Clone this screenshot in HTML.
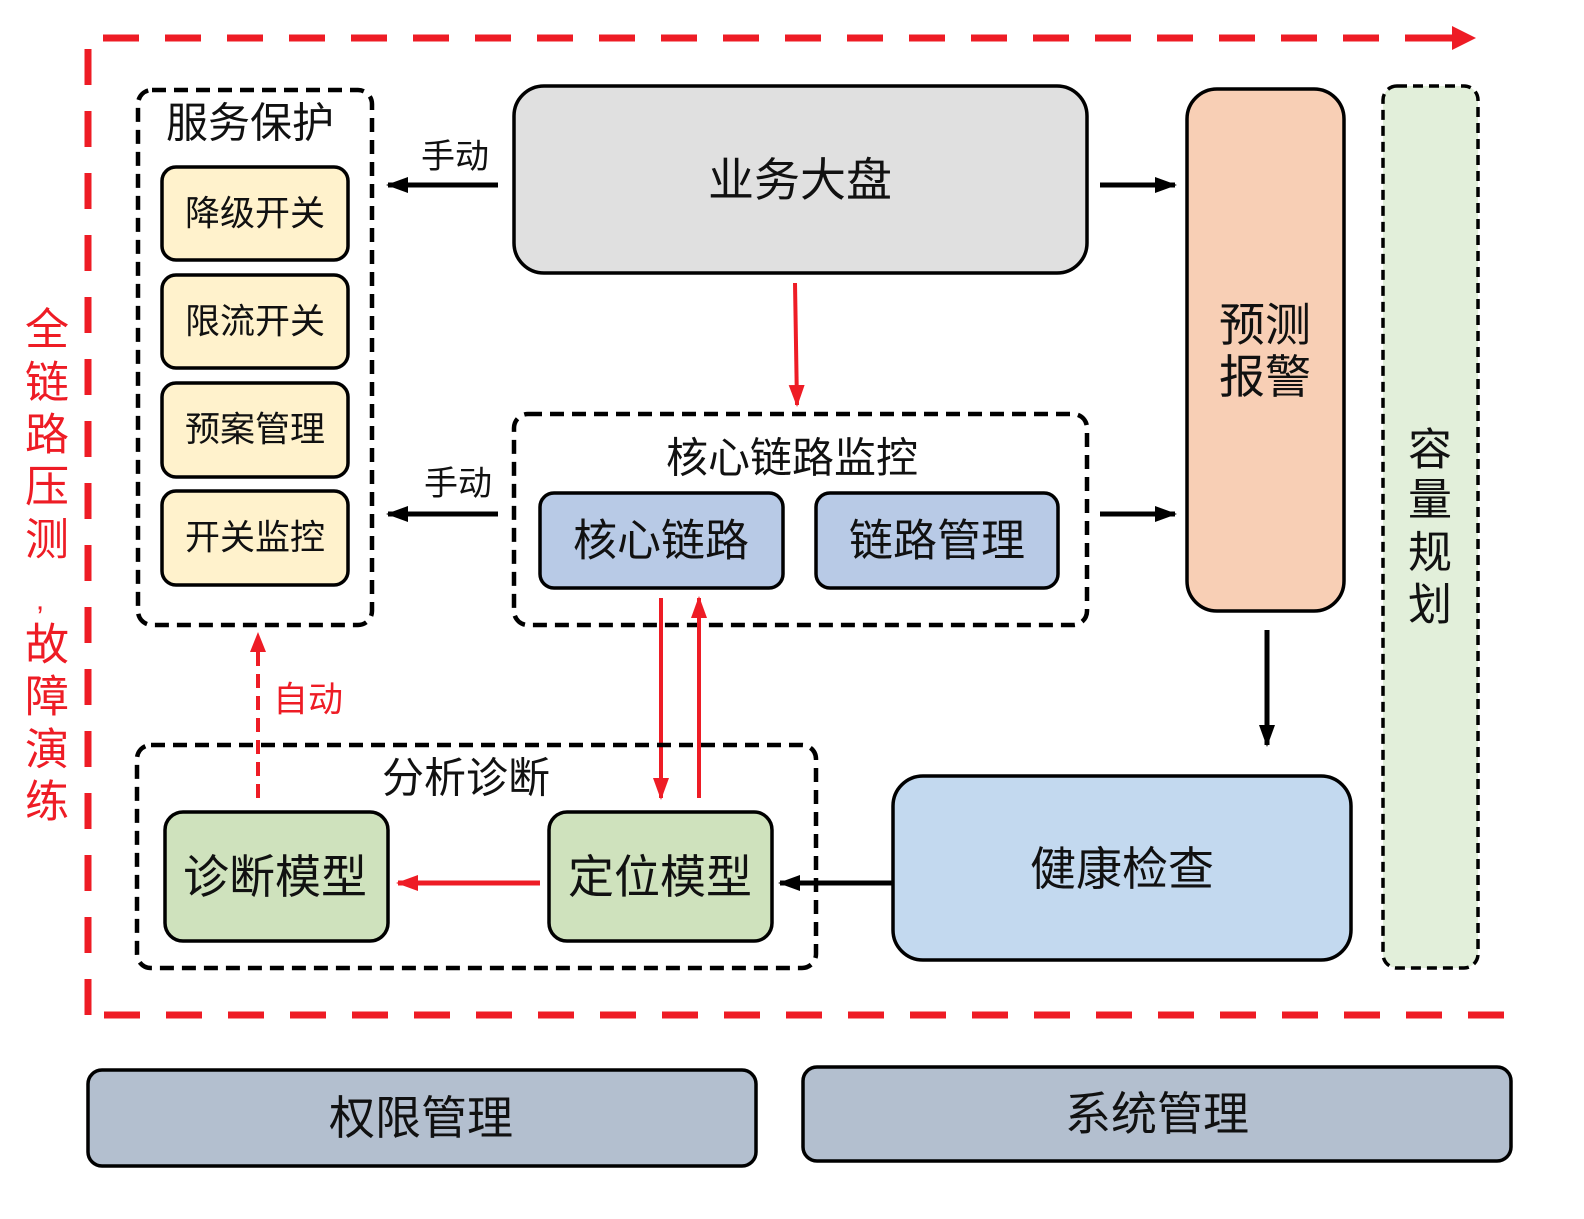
<!DOCTYPE html>
<html><head><meta charset="utf-8"><style>
html,body{margin:0;padding:0;background:#fff;}
svg text{font-family:"Liberation Sans","Noto Sans CJK SC",sans-serif;text-anchor:middle;dominant-baseline:central;fill:#111;}
</style></head><body>
<svg width="1584" height="1214" viewBox="0 0 1584 1214" xmlns="http://www.w3.org/2000/svg">
<defs>
<marker id="ab" markerWidth="24" markerHeight="20" refX="20" refY="10" orient="auto" markerUnits="userSpaceOnUse"><path d="M0,2 L22,10 L0,18 Z" fill="#000"/></marker>
<marker id="ar" markerWidth="24" markerHeight="20" refX="20" refY="10" orient="auto" markerUnits="userSpaceOnUse"><path d="M0,2 L22,10 L0,18 Z" fill="#ee1c25"/></marker>
</defs>
<!-- red frame -->
<path d="M88,1015 L88,38 L1455,38" fill="none" stroke="#ee1c25" stroke-width="7" stroke-dasharray="36,26"/>
<path d="M1430,38 L1455,38" stroke="#ee1c25" stroke-width="7"/>
<path d="M1452,26 L1476,38 L1452,50 Z" fill="#ee1c25"/>
<path d="M104,1015 L1510,1015" stroke="#ee1c25" stroke-width="7" stroke-dasharray="36,26"/>
<g font-size="44">
<text x="47" y="330" style="fill:#ee1c25">全</text><text x="47" y="383" style="fill:#ee1c25">链</text><text x="47" y="435" style="fill:#ee1c25">路</text><text x="47" y="487" style="fill:#ee1c25">压</text><text x="47" y="540" style="fill:#ee1c25">测</text><text x="40" y="600" font-size="30" style="fill:#ee1c25">,</text><text x="47" y="645" style="fill:#ee1c25">故</text><text x="47" y="697" style="fill:#ee1c25">障</text><text x="47" y="750" style="fill:#ee1c25">演</text><text x="47" y="802" style="fill:#ee1c25">练</text>
</g>
<!-- 服务保护 -->
<rect x="138" y="90" width="234" height="535" rx="14" fill="none" stroke="#000" stroke-width="4.5" stroke-dasharray="14,8"/>
<text x="250" y="123" font-size="42">服务保护</text>
<g stroke="#000" stroke-width="3.5" fill="#fff2cc">
<rect x="162" y="167" width="186" height="93" rx="14"/><rect x="162" y="275" width="186" height="93" rx="14"/><rect x="162" y="383" width="186" height="94" rx="14"/><rect x="162" y="491" width="186" height="94" rx="14"/>
</g>
<g font-size="35"><text x="255" y="214">降级开关</text><text x="255" y="322">限流开关</text><text x="255" y="430">预案管理</text><text x="255" y="538">开关监控</text></g>
<!-- 手动 arrows -->
<line x1="498" y1="185" x2="388" y2="185" stroke="#000" stroke-width="5" marker-end="url(#ab)"/>
<text x="455" y="157" font-size="34">手动</text>
<line x1="498" y1="514" x2="388" y2="514" stroke="#000" stroke-width="5" marker-end="url(#ab)"/>
<text x="458" y="484" font-size="34">手动</text>
<!-- 业务大盘 -->
<rect x="514" y="86" width="573" height="187" rx="30" fill="#e0e0e0" stroke="#000" stroke-width="3.5"/>
<text x="800" y="180" font-size="46">业务大盘</text>
<line x1="795" y1="283" x2="797" y2="405" stroke="#ee1c25" stroke-width="4" marker-end="url(#ar)"/>
<!-- 核心链路监控 -->
<rect x="514" y="414" width="573" height="211" rx="14" fill="none" stroke="#000" stroke-width="4.5" stroke-dasharray="14,8"/>
<text x="792" y="458" font-size="42">核心链路监控</text>
<rect x="540" y="493" width="243" height="95" rx="14" fill="#b8cae6" stroke="#000" stroke-width="3.5"/>
<rect x="816" y="493" width="242" height="95" rx="14" fill="#b8cae6" stroke="#000" stroke-width="3.5"/>
<text x="661" y="541" font-size="44">核心链路</text><text x="937" y="541" font-size="44">链路管理</text>
<line x1="1100" y1="185" x2="1175" y2="185" stroke="#000" stroke-width="5" marker-end="url(#ab)"/>
<line x1="1100" y1="514" x2="1175" y2="514" stroke="#000" stroke-width="5" marker-end="url(#ab)"/>
<!-- 预测报警 -->
<rect x="1187" y="89" width="157" height="522" rx="30" fill="#f8cfb5" stroke="#000" stroke-width="3.5"/>
<text x="1265" y="325" font-size="46">预测</text><text x="1265" y="377" font-size="46">报警</text>
<line x1="1267" y1="630" x2="1267" y2="745" stroke="#000" stroke-width="5" marker-end="url(#ab)"/>
<!-- 容量规划 -->
<rect x="1383" y="86" width="95" height="882" rx="14" fill="#e2efda" stroke="#000" stroke-width="3.5" stroke-dasharray="10,6"/>
<g font-size="44"><text x="1430" y="450">容</text><text x="1430" y="500">量</text><text x="1430" y="553">规</text><text x="1430" y="605">划</text></g>
<!-- red vertical arrows -->
<line x1="661" y1="598" x2="661" y2="798" stroke="#ee1c25" stroke-width="4" marker-end="url(#ar)"/>
<line x1="699" y1="798" x2="699" y2="598" stroke="#ee1c25" stroke-width="4" marker-end="url(#ar)"/>
<!-- 自动 -->
<line x1="258" y1="798" x2="258" y2="650" stroke="#ee1c25" stroke-width="4" stroke-dasharray="14,8"/>
<path d="M250,652 L258,632 L266,652 Z" fill="#ee1c25"/>
<text x="308" y="700" font-size="35" style="fill:#ee1c25">自动</text>
<!-- 分析诊断 -->
<rect x="137" y="745" width="679" height="223" rx="14" fill="none" stroke="#000" stroke-width="4.5" stroke-dasharray="14,8"/>
<text x="466" y="778" font-size="42">分析诊断</text>
<rect x="165" y="812" width="223" height="129" rx="18" fill="#cfe2bd" stroke="#000" stroke-width="3.5"/>
<rect x="549" y="812" width="223" height="129" rx="18" fill="#cfe2bd" stroke="#000" stroke-width="3.5"/>
<text x="275" y="877" font-size="46">诊断模型</text><text x="660" y="877" font-size="46">定位模型</text>
<line x1="540" y1="883" x2="398" y2="883" stroke="#ee1c25" stroke-width="5" marker-end="url(#ar)"/>
<line x1="892" y1="883" x2="780" y2="883" stroke="#000" stroke-width="5" marker-end="url(#ab)"/>
<!-- 健康检查 -->
<rect x="893" y="776" width="458" height="184" rx="30" fill="#c3d9ef" stroke="#000" stroke-width="3.5"/>
<text x="1122" y="869" font-size="46">健康检查</text>
<!-- bottom -->
<rect x="88" y="1070" width="668" height="96" rx="14" fill="#b3bfcf" stroke="#000" stroke-width="3.5"/>
<text x="421" y="1118" font-size="46">权限管理</text>
<rect x="803" y="1067" width="708" height="94" rx="14" fill="#b3bfcf" stroke="#000" stroke-width="3.5"/>
<text x="1157" y="1114" font-size="46">系统管理</text>
</svg>
</body></html>
